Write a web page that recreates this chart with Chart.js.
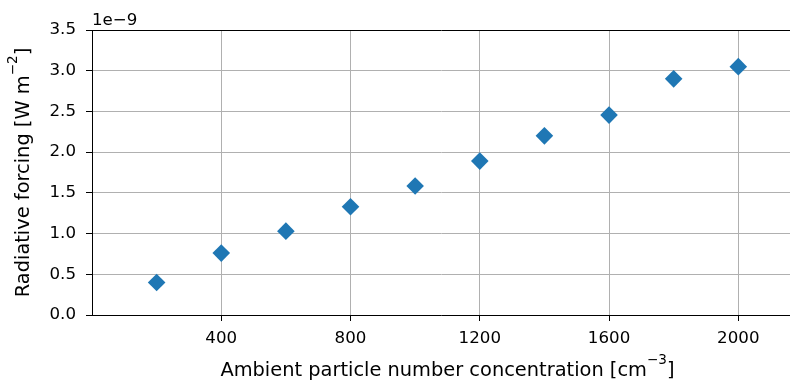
<!DOCTYPE html>
<html><head><meta charset="utf-8">
<script src="https://cdn.jsdelivr.net/npm/chart.js@4/dist/chart.umd.min.js"></script>
<style>html,body{margin:0;padding:0;background:#fff;overflow:hidden}#wrap{width:790px;height:382px;position:relative}</style>
</head><body><div id="wrap"><canvas id="c" width="790" height="382"></canvas></div>
<script>
const concentrations = [200, 400, 600, 800, 1000, 1200, 1400, 1600, 1800, 2000];
const forcing = [0.40, 0.76, 1.03, 1.33, 1.585, 1.89, 2.20, 2.455, 2.90, 3.05]; // in units of 1e-9 W m^-2
const xTicks = [400, 800, 1200, 1600, 2000];
const yTicks = [0, 0.5, 1.0, 1.5, 2.0, 2.5, 3.0, 3.5];
const xLabel = ['Ambient particle number concentration [cm', '\u22123', ']'];
const yLabel = ['Radiative forcing [W m', '\u22122', ']'];
const offsetText = '1e\u22129';

const FONT = 'DejaVu Sans';
const TICK_SIZE = 16.67;
const LABEL_SIZE = 19.4;

function drawSupText(ctx, parts, cx, cy, size) {
  const supSize = size * 0.7;
  ctx.font = size + 'px "' + FONT + '"';
  const w0 = ctx.measureText(parts[0]).width;
  const w2 = ctx.measureText(parts[2]).width;
  ctx.font = supSize + 'px "' + FONT + '"';
  const w1 = ctx.measureText(parts[1]).width;
  const total = w0 + w1 + w2;
  let x = cx - total / 2;
  ctx.textAlign = 'left';
  ctx.textBaseline = 'alphabetic';
  ctx.font = size + 'px "' + FONT + '"';
  ctx.fillText(parts[0], x, cy);
  x += w0;
  ctx.font = supSize + 'px "' + FONT + '"';
  ctx.fillText(parts[1], x, cy - 12);
  x += w1;
  ctx.font = size + 'px "' + FONT + '"';
  ctx.fillText(parts[2], x, cy);
}

const labelsPlugin = {
  id: 'labelsPlugin',
  afterDraw(chart) {
    const ctx = chart.ctx;
    const xs = chart.scales.x;
    const area = chart.chartArea;
    ctx.save();
    ctx.fillStyle = '#000';
    ctx.font = TICK_SIZE + 'px "' + FONT + '"';
    ctx.textAlign = 'left';
    ctx.textBaseline = 'alphabetic';
    ctx.fillText(offsetText, area.left, 25);
    drawSupText(ctx, xLabel, xs.getPixelForValue(1100), 376, LABEL_SIZE);
    ctx.translate(28.5, (area.top + area.bottom) / 2);
    ctx.rotate(-Math.PI / 2);
    drawSupText(ctx, yLabel, 0, 0, LABEL_SIZE);
    ctx.restore();
  }
};

new Chart(document.getElementById('c'), {
  type: 'scatter',
  data: {
    datasets: [{
      data: concentrations.map((x, i) => ({ x: x, y: forcing[i] })),
      pointStyle: 'rectRot',
      pointRadius: 8.8,
      pointHoverRadius: 8.8,
      backgroundColor: '#1f77b4',
      borderColor: '#1f77b4',
      borderWidth: 0
    }]
  },
  options: {
    responsive: false,
    animation: false,
    devicePixelRatio: 1,
    layout: { autoPadding: false, padding: { top: 30, left: 0, right: 0, bottom: 0 } },
    plugins: { legend: { display: false }, tooltip: { enabled: false } },
    scales: {
      x: {
        type: 'linear',
        min: 0,
        max: 2160,
        afterBuildTicks: s => { s.ticks = xTicks.map(v => ({ value: v })); },
        afterFit: s => { s.height = 67; },
        grid: { color: '#b0b0b0', lineWidth: 1, tickLength: 6, tickColor: '#000', drawTicks: true },
        border: { color: '#000', width: 1 },
        ticks: { color: '#000', font: { family: FONT, size: TICK_SIZE }, padding: 8, maxRotation: 0, autoSkip: false, callback: v => String(v) }
      },
      y: {
        min: 0,
        max: 3.5,
        afterBuildTicks: s => { s.ticks = yTicks.map(v => ({ value: v })); },
        afterFit: s => { s.width = 92; },
        grid: {
          color: c => (c.tick && c.tick.value === 3.5) ? '#000' : '#b0b0b0',
          lineWidth: 1, tickLength: 6, tickColor: '#000', drawTicks: true
        },
        border: { color: '#000', width: 1 },
        ticks: { color: '#000', font: { family: FONT, size: TICK_SIZE }, padding: 10, autoSkip: false, callback: v => v.toFixed(1) }
      }
    }
  },
  plugins: [labelsPlugin]
});
</script>
</body></html>
